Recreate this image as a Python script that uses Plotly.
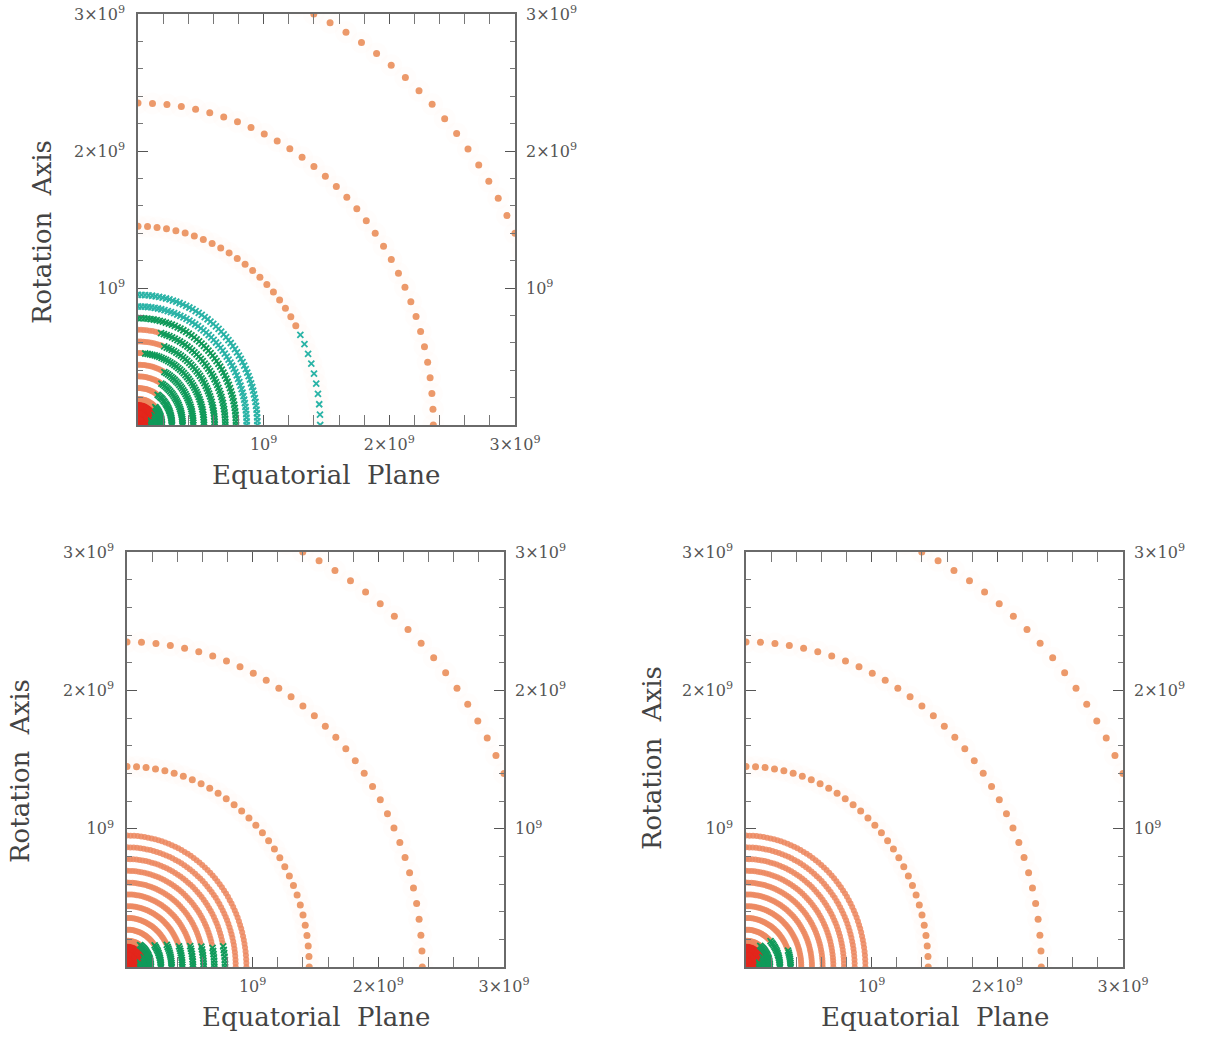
import numpy as np
import plotly.graph_objects as go

W, H = 1208, 1038

# ---------------- data (radii in units of 1e9 cm) ----------------
ring_radius = [0.03, 0.07, 0.11, 0.15, 0.19, 0.27, 0.355, 0.44, 0.525,
               0.61, 0.695, 0.78, 0.865, 0.95, 1.45, 2.35, 3.31]
ring_points = [8, 12, 16, 20, 28, 34, 38, 42, 44, 46, 48, 50, 52, 54, 31, 33, 37]
ring_kind = ["core"] * 4 + ["inner"] * 10 + ["outer"] * 3

# maximum polar angle (deg, measured from the equatorial plane) with green markers
green_top = [0, 0, 20, 30, 45, 55, 60, 62, 85, 70, 75, 90, 90, 90, 27, 0, 0]
green_bl = [0, 0, 20, 30, 57, 36, 27, 21, 18, 15, 13, 12, 0, 0, 0, 0, 0]
green_br = [0, 0, 20, 30, 55, 45, 20, 0, 0, 0, 0, 0, 0, 0, 0, 0, 0]

tick_vals = [1e9, 2e9, 3e9]
tick_text = ["10<sup>9</sup>", "2×10<sup>9</sup>", "3×10<sup>9</sup>"]

panels = [
    dict(px=(138, 515), py=(14, 425), green=green_top,
         ylab=(42, 232), xlab=(326, 475)),
    dict(px=(127, 504), py=(552, 967), green=green_bl,
         ylab=(20, 771), xlab=(316, 1017)),
    dict(px=(746, 1123), py=(552, 967), green=green_br,
         ylab=(652, 758), xlab=(935, 1017)),
]

orange_col = {"core": "#e3261c", "inner": "#ec8860", "outer": "#ea8e5a"}
green_inner = "#109a5a"
green_outer = "#2ab3a6"

FONT = "DejaVu Serif"
GREY = "#555555"

fig = go.Figure()

for i, p in enumerate(panels):
    sfx = "" if i == 0 else str(i + 1)
    xa, ya = "x" + sfx, "y" + sfx
    hx, hy = [], []
    for r, n, k in zip(ring_radius, ring_points, ring_kind):
        if k != "outer":
            continue
        th = np.radians(np.linspace(0, 90, n))
        hx += list(r * 1e9 * np.cos(th))
        hy += list(r * 1e9 * np.sin(th))
    fig.add_trace(go.Scatter(x=hx, y=hy, mode="markers", xaxis=xa, yaxis=ya,
                             marker=dict(size=22, color="rgba(240,150,110,0.025)", line=dict(width=0)),
                             hoverinfo="skip", showlegend=False))
    for r, n, k, g in zip(ring_radius, ring_points, ring_kind, p["green"]):
        ang = np.linspace(0, 90, n)
        th = np.radians(ang)
        xs = r * 1e9 * np.cos(th)
        ys = r * 1e9 * np.sin(th)
        gmask = ang <= g if g > 0 else np.zeros(n, bool)
        omask = ~gmask
        if k == "core":
            size, op = 12, 1.0
        elif k == "inner":
            size, op = 6, 0.85
        else:
            size, op = 7, 0.9
        fig.add_trace(go.Scatter(x=xs[omask], y=ys[omask], mode="markers", xaxis=xa, yaxis=ya,
                                 marker=dict(size=size, color=orange_col[k], opacity=op, line=dict(width=0)),
                                 hoverinfo="skip", showlegend=False))
        if gmask.any():
            gc = green_outer if r > 0.8 else green_inner
            fig.add_trace(go.Scatter(x=xs[gmask], y=ys[gmask], mode="markers", xaxis=xa, yaxis=ya,
                                     marker=dict(size=6, symbol="x-thin", color=gc,
                                                 line=dict(width=1.8, color=gc)),
                                     hoverinfo="skip", showlegend=False))

layout = dict(template="none", width=W, height=H, margin=dict(l=0, r=0, t=0, b=0, autoexpand=False),
              paper_bgcolor="white", plot_bgcolor="white", showlegend=False,
              font=dict(family=FONT, color=GREY, size=16))

annotations = []
for i, p in enumerate(panels):
    sfx = "" if i == 0 else str(i + 1)
    rsfx = str(i + 4)
    xd = [p["px"][0] / W, p["px"][1] / W]
    yd = [1 - p["py"][1] / H, 1 - p["py"][0] / H]
    common = dict(range=[0, 3e9], tickvals=tick_vals, ticktext=tick_text, automargin=False,
                  ticklabeloverflow="allow",
                  showgrid=False, zeroline=False, showline=True, linecolor="#6a6a6a",
                  linewidth=1.5, ticks="inside", ticklen=10, tickwidth=1.3, tickcolor="#555555",
                  mirror="allticks",
                  minor=dict(dtick=2e8, tick0=0, ticks="inside", ticklen=5, tickwidth=1, tickcolor="#777777"),
                  tickfont=dict(family=FONT, size=16, color=GREY), fixedrange=True)
    layout["xaxis" + sfx] = dict(domain=xd, anchor="y" + sfx, ticklabelstandoff=4, **common)
    layout["yaxis" + sfx] = dict(domain=yd, anchor="x" + sfx, ticklabelstandoff=8, **common)
    layout["yaxis" + rsfx] = dict(domain=yd, anchor="x" + sfx, overlaying="y" + sfx, side="right",
                                  range=[0, 3e9], tickvals=tick_vals, ticktext=tick_text, automargin=False,
                                  ticklabeloverflow="allow",
                                  showgrid=False, zeroline=False, showline=False, ticks="",
                                  ticklabelstandoff=10,
                                  tickfont=dict(family=FONT, size=16, color=GREY), fixedrange=True)
    annotations.append(dict(text="Rotation  Axis", x=p["ylab"][0] / W, y=1 - p["ylab"][1] / H,
                            xref="paper", yref="paper", showarrow=False, textangle=-90,
                            font=dict(family=FONT, size=26, color="#444444"),
                            xanchor="center", yanchor="middle"))
    annotations.append(dict(text="Equatorial  Plane", x=p["xlab"][0] / W, y=1 - p["xlab"][1] / H,
                            xref="paper", yref="paper", showarrow=False,
                            font=dict(family=FONT, size=26, color="#444444"),
                            xanchor="center", yanchor="middle"))
layout["annotations"] = annotations
fig.update_layout(**layout)

for i in range(3):
    fig.add_trace(go.Scatter(x=[None], y=[None], xaxis="x" + ("" if i == 0 else str(i + 1)),
                             yaxis="y" + str(i + 4), showlegend=False, hoverinfo="skip"))

fig.write_html("out.html")
